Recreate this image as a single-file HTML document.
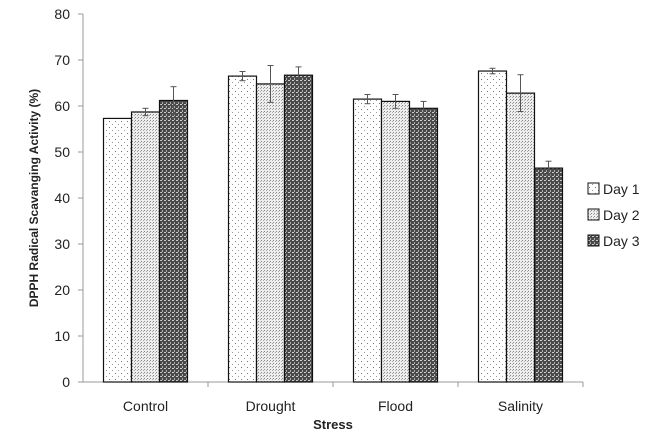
<!DOCTYPE html>
<html><head><meta charset="utf-8"><style>
body{margin:0;background:#fff;}
svg text{font-family:"Liberation Sans",Arial,sans-serif;fill:#222;}
</style></head><body>
<svg width="649" height="436">
<defs>
<pattern id="p1" width="6" height="6" patternUnits="userSpaceOnUse"><rect width="6" height="6" fill="#fff"/><rect x="1" y="1" width="1" height="1" fill="#777"/><rect x="4" y="4" width="1" height="1" fill="#999"/></pattern>
<pattern id="p2" width="3" height="3" patternUnits="userSpaceOnUse"><rect width="3" height="3" fill="#eee"/><rect x="0" y="0" width="1" height="1" fill="#888"/><rect x="2" y="1" width="1" height="1" fill="#aaa"/></pattern>
<pattern id="p3" width="4" height="4" patternUnits="userSpaceOnUse"><rect width="4" height="4" fill="#4a4a4a"/><rect x="0" y="0" width="2" height="1" fill="#ccc"/><rect x="2" y="2" width="1" height="2" fill="#aaa"/></pattern>
</defs>
<g id="chart"></g>
</svg>
<script>
const categories=["Control","Drought","Flood","Salinity"];
const seriesNames=["Day 1","Day 2","Day 3"];
const day1=[57.3,66.5,61.5,67.6];
const day2=[58.7,64.8,61.0,62.8];
const day3=[61.2,66.7,59.5,46.5];
const err1=[0,1.0,1.0,0.6];
const err2=[0.8,4.0,1.5,4.0];
const err3=[3.0,1.8,1.5,1.5];
const yTicks=[0,10,20,30,40,50,60,70,80];

const NS="http://www.w3.org/2000/svg";
const g=document.getElementById('chart');
const x0=83,x1=583,yb=382,yt=14,ymax=80;
const y=v=>yb-(yb-yt)*v/ymax;
const band=(x1-x0)/categories.length;
function el(t,a,txt){const e=document.createElementNS(NS,t);for(const k in a)e.setAttribute(k,a[k]);if(txt!=null)e.textContent=txt;g.appendChild(e);return e;}
let e;
e=el('line',{x1:x0,y1:yt,x2:x0,y2:yb,stroke:'#999'});

e=el('line',{x1:x0,y1:yb,x2:x1,y2:yb,stroke:'#999'});

yTicks.forEach(t=>{
 el('line',{x1:x0-5,y1:y(t),x2:x0,y2:y(t),stroke:'#999'});
 e=el('text',{x:x0-13,y:y(t)+5,'text-anchor':'end','font-size':14},t);
 
});
const series=[day1,day2,day3],errs=[err1,err2,err3],pats=['url(#p1)','url(#p2)','url(#p3)'];
const bw=28;
categories.forEach((c,i)=>{
 el('line',{x1:x0+band*(i+1),y1:yb,x2:x0+band*(i+1),y2:yb+5,stroke:'#999'});
 const cx=x0+band*(i+0.5);
 e=el('text',{x:cx,y:yb+29,'text-anchor':'middle','font-size':14},c);
 
 series.forEach((s,j)=>{
  const bx=cx-1.5*bw+j*bw;
  e=el('rect',{x:bx,y:y(s[i]),width:bw,height:yb-y(s[i]),fill:pats[j],stroke:'#111','stroke-width':1.2});
  
  const er=errs[j][i];
  if(er>0){const mx=bx+bw/2;
   el('line',{x1:mx,y1:y(s[i]+er),x2:mx,y2:y(s[i]-er),stroke:'#555'});
   el('line',{x1:mx-3,y1:y(s[i]+er),x2:mx+3,y2:y(s[i]+er),stroke:'#555'});
   el('line',{x1:mx-3,y1:y(s[i]-er),x2:mx+3,y2:y(s[i]-er),stroke:'#555'});}
 });
});
e=el('text',{x:(x0+x1)/2,y:429,'text-anchor':'middle','font-size':13,'font-weight':'bold'},'Stress');

e=el('text',{x:0,y:0,'text-anchor':'middle','font-size':12,'font-weight':'bold',transform:'translate(38,198) rotate(-90)'},'DPPH Radical  Scavanging Activity (%)');

seriesNames.forEach((n,j)=>{
 const ly=194+j*26;
 e=el('rect',{x:588,y:ly-11,width:11,height:11,fill:pats[j],stroke:'#111'});
 
 e=el('text',{x:603,y:ly,'font-size':14},n);
 
});
</script>
</body></html>
